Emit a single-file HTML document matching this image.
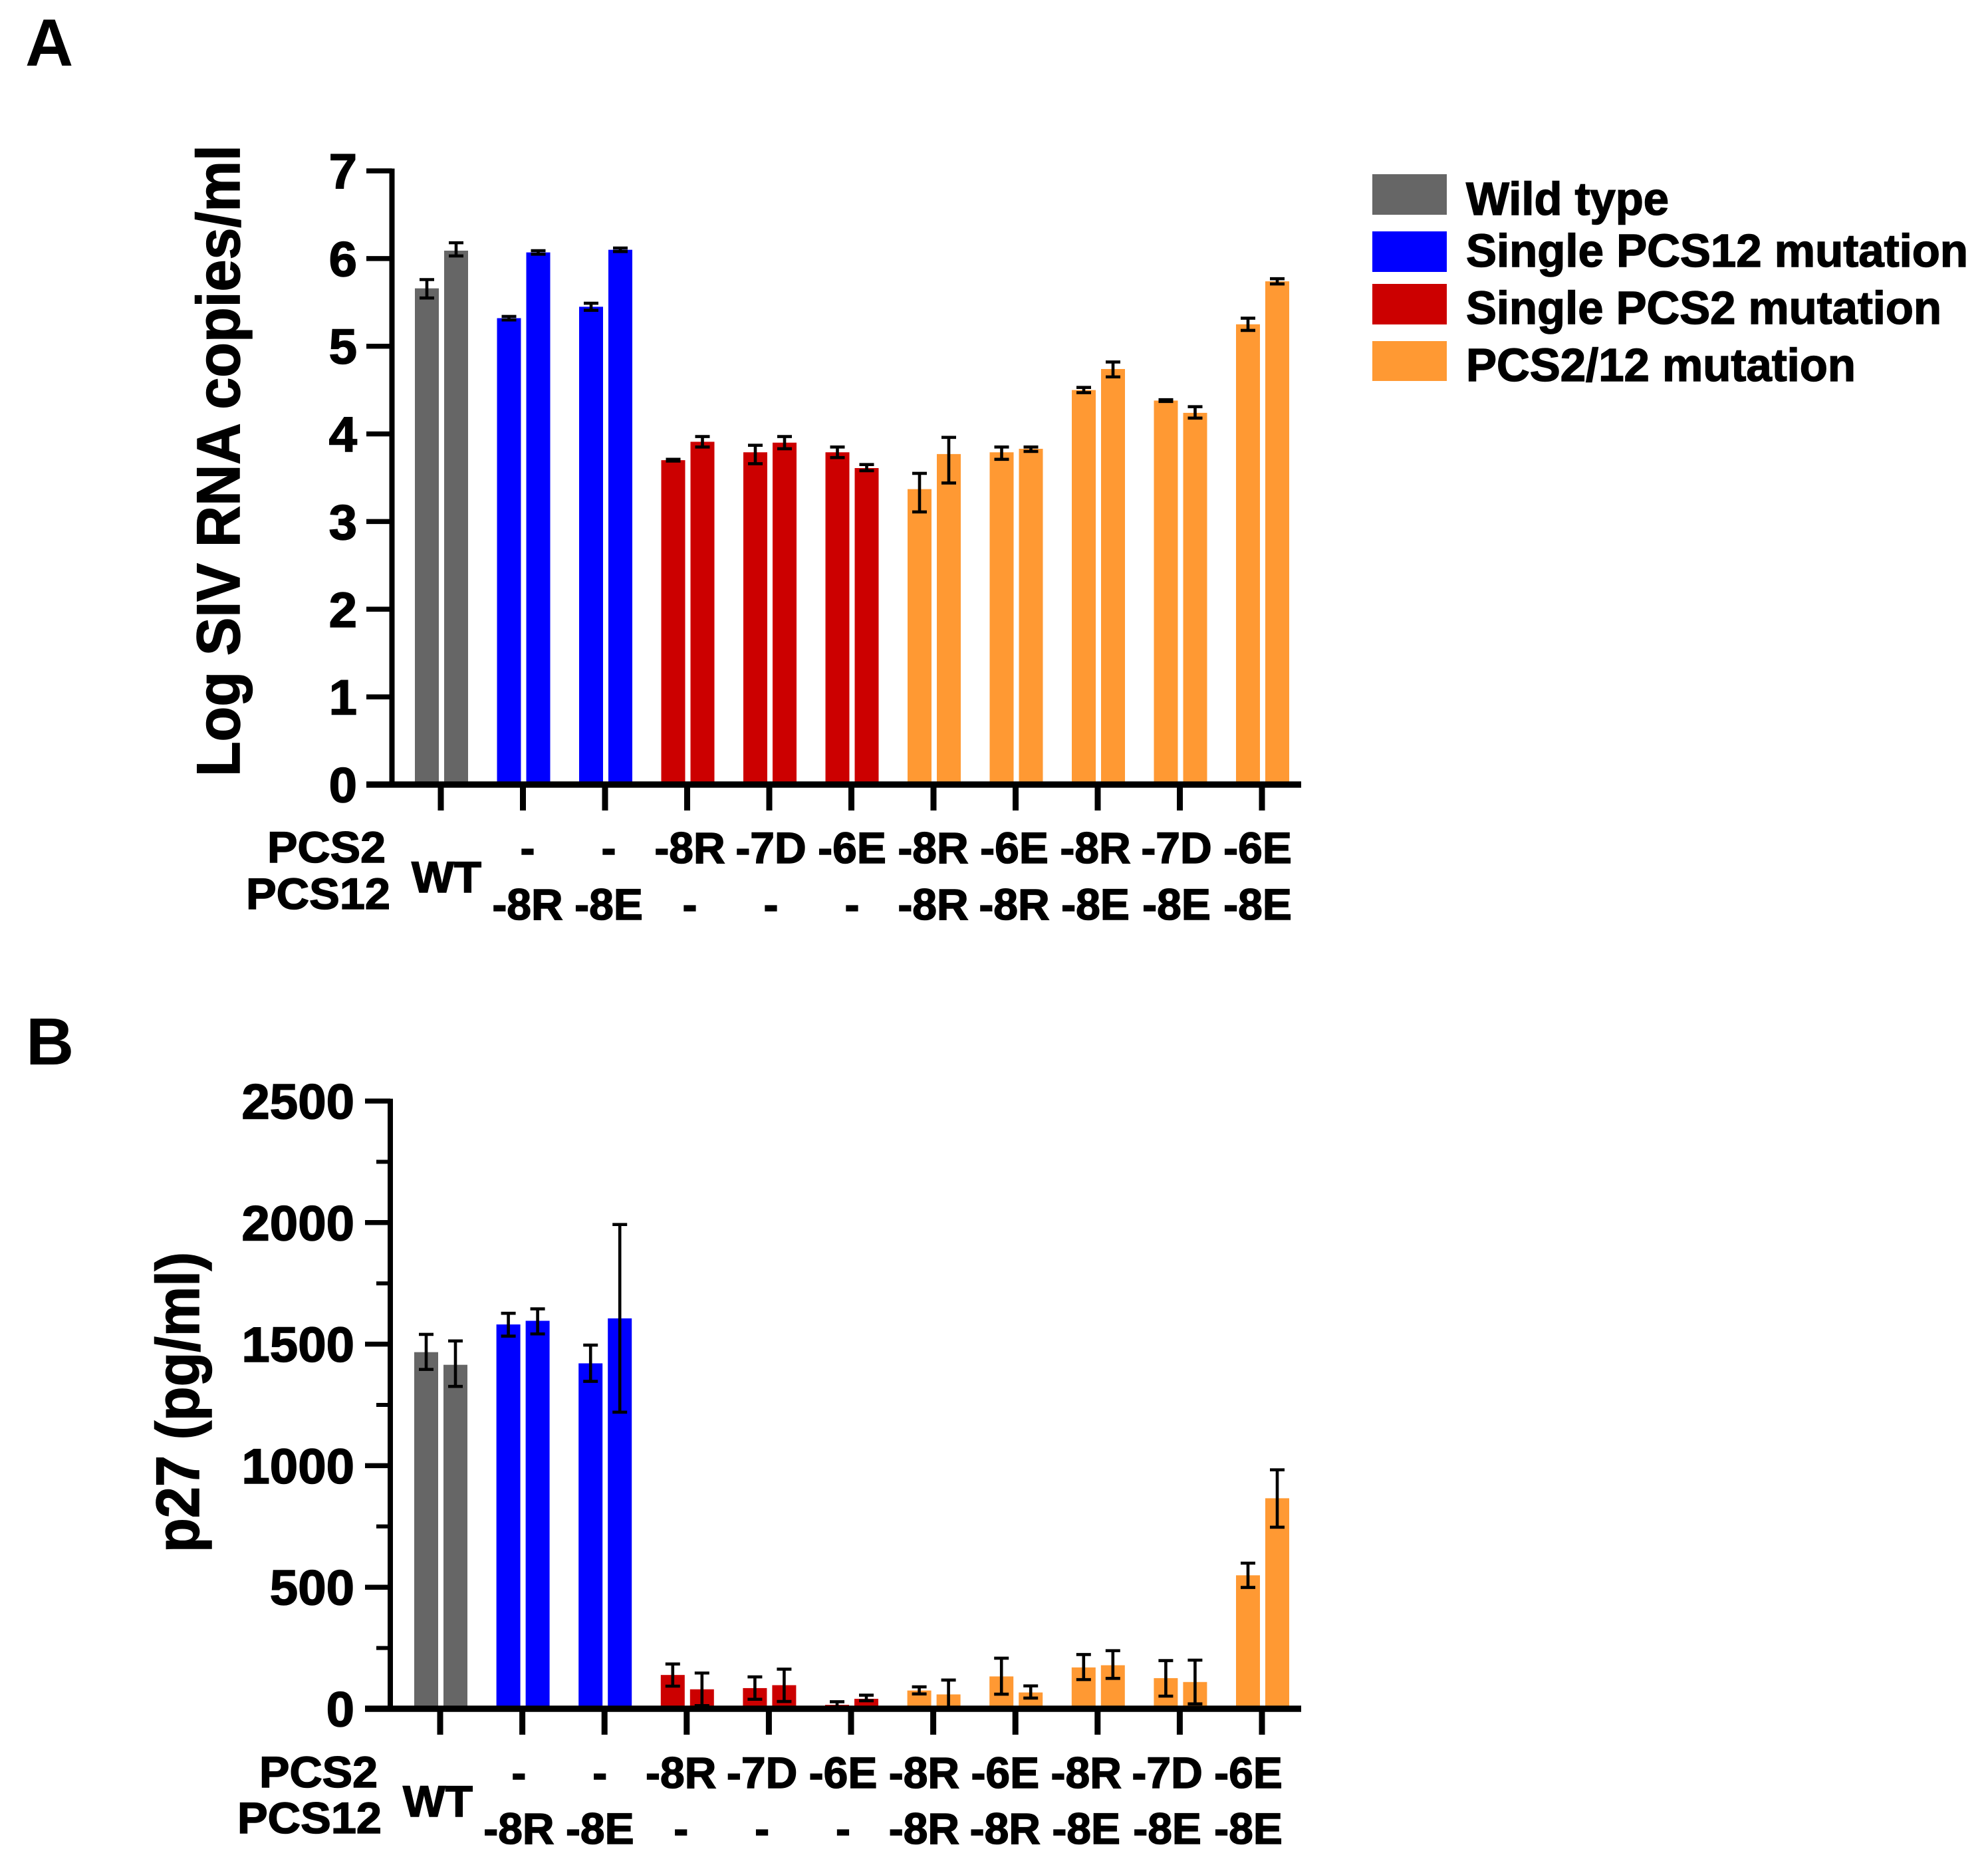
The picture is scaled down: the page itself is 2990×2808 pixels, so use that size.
<!DOCTYPE html>
<html lang="en">
<head>
<meta charset="utf-8">
<title>SIV RNA and p27 by PCS mutation</title>
<style>
  html, body { margin: 0; padding: 0; background: #fff; }
  svg { display: block; }
  text { font-family: "Liberation Sans", Arial, sans-serif; font-weight: bold; fill: #000; stroke: #000; stroke-width: 1.5px; }
</style>
</head>
<body>
<svg id="figure" xmlns="http://www.w3.org/2000/svg" width="2990" height="2808" viewBox="0 0 2990 2808">
  <rect x="0" y="0" width="2990" height="2808" fill="#ffffff"/>
  <text x="38" y="98.5" font-size="100" style="stroke-width:0">A</text>
  <text x="39" y="1601" font-size="100" style="stroke-width:0">B</text>

  <text transform="translate(360 1168) rotate(-90)" x="0" y="0" font-size="92" textLength="950" lengthAdjust="spacingAndGlyphs">Log SIV RNA copies/ml</text>
  <text transform="translate(299 2335) rotate(-90)" x="0" y="0" font-size="92" textLength="452" lengthAdjust="spacingAndGlyphs">p27 (pg/ml)</text>

  <g>
    <g>
      <rect x="2064" y="262" width="112" height="61" fill="#666666"/>
      <text x="2205" y="323" font-size="70" textLength="305" lengthAdjust="spacingAndGlyphs">Wild type</text>
    </g>
    <g>
      <rect x="2064" y="348" width="112" height="61" fill="#0000ff"/>
      <text x="2205" y="401" font-size="70" textLength="755" lengthAdjust="spacingAndGlyphs">Single PCS12 mutation</text>
    </g>
    <g>
      <rect x="2064" y="427" width="112" height="61" fill="#cc0000"/>
      <text x="2205" y="487" font-size="70" textLength="715" lengthAdjust="spacingAndGlyphs">Single PCS2 mutation</text>
    </g>
    <g>
      <rect x="2064" y="513" width="112" height="60" fill="#ff9933"/>
      <text x="2205" y="573" font-size="70" textLength="586" lengthAdjust="spacingAndGlyphs">PCS2/12 mutation</text>
    </g>
  </g>

  <g id="panel-a"></g>
  <g id="panel-b"></g>
</svg>

<script>
// Shared category data
const pcs2Labels = ['', '-', '-', '-8R', '-7D', '-6E', '-8R', '-6E', '-8R', '-7D', '-6E'];
const pcs12Labels = ['', '-8R', '-8E', '-', '-', '-', '-8R', '-8R', '-8E', '-8E', '-8E'];
const categoryKinds = ['wild', 'pcs12', 'pcs12', 'pcs2', 'pcs2', 'pcs2', 'double', 'double', 'double', 'double', 'double'];

// Panel A: log SIV RNA copies/ml (two bars per category)
const rnaValues = [5.66, 6.09, 5.32, 6.07, 5.45, 6.10, 3.70, 3.91, 3.79, 3.90, 3.79, 3.61, 3.37, 3.77, 3.79, 3.83, 4.50, 4.74, 4.38, 4.24, 5.25, 5.74];
const rnaErrHigh = [5.76, 6.18, 5.34, 6.09, 5.49, 6.12, 3.71, 3.97, 3.87, 3.97, 3.85, 3.65, 3.55, 3.96, 3.85, 3.85, 4.53, 4.82, 4.39, 4.31, 5.32, 5.77];
const rnaErrLow = [5.55, 6.03, 5.30, 6.05, 5.41, 6.08, 3.69, 3.85, 3.66, 3.83, 3.73, 3.58, 3.11, 3.44, 3.71, 3.80, 4.47, 4.65, 4.37, 4.18, 5.18, 5.71];
const rnaTicks = [0, 1, 2, 3, 4, 5, 6, 7];

// Panel B: p27 pg/ml (two bars per category)
const p27Values = [1467, 1415, 1581, 1596, 1421, 1606, 139, 80, 85, 97, 16, 41, 75, 59, 133, 67, 170, 179, 126, 110, 549, 866];
const p27ErrHigh = [1540, 1513, 1627, 1645, 1496, 1992, 184, 147, 131, 163, 29, 56, 90, 118, 208, 94, 223, 239, 198, 200, 599, 983];
const p27ErrLow = [1396, 1326, 1533, 1542, 1347, 1220, 93, 13, 39, 30, 7, 33, 61, 1, 60, 44, 120, 125, 52, 20, 499, 747];
const p27Ticks = [0, 500, 1000, 1500, 2000, 2500];
const p27MinorTicks = [250, 750, 1250, 1750, 2250];

const kindColor = { wild: '#666666', pcs12: '#0000ff', pcs2: '#cc0000', double: '#ff9933' };
const NS = 'http://www.w3.org/2000/svg';

function shape(parent, tag, attrs) {
  const el = document.createElementNS(NS, tag);
  for (const k in attrs) el.setAttribute(k, attrs[k]);
  parent.appendChild(el);
  return el;
}

function drawPanel(rootId, cfg) {
  const root = document.getElementById(rootId);
  const yScale = v => cfg.y0 - (v / cfg.yMax) * (cfg.y0 - cfg.yTop);
  const xScale = i => cfg.x0 + cfg.xStep * i;
  const labelX = i => cfg.labelX0 + cfg.labelStep * i;
  const barW = 36;

  // Bars
  cfg.values.forEach((v, idx) => {
    const cat = Math.floor(idx / 2);
    const side = idx % 2;
    const bx = xScale(cat) + 1 + (side === 0 ? -40 : 4);
    const top = yScale(v);
    const bar = shape(root, 'rect', { x: bx, y: top, width: barW, height: cfg.y0 - top, fill: kindColor[categoryKinds[cat]] });
    
    
  });

  // Error bars
  cfg.values.forEach((v, idx) => {
    const cat = Math.floor(idx / 2);
    const side = idx % 2;
    const cx = xScale(cat) + 1 + (side === 0 ? -40 : 4) + barW / 2;
    const hi = yScale(cfg.errHigh[idx]);
    const lo = yScale(cfg.errLow[idx]);
    const g = shape(root, 'g', { stroke: '#000', 'stroke-width': 4.6 });
    
    
    shape(g, 'line', { x1: cx, x2: cx, y1: hi, y2: lo });
    shape(g, 'line', { x1: cx - 11, x2: cx + 11, y1: hi, y2: hi });
    shape(g, 'line', { x1: cx - 11, x2: cx + 11, y1: lo, y2: lo });
  });

  // Axes
  const yAxis = shape(root, 'line', { x1: cfg.axisX, x2: cfg.axisX, y1: cfg.yTop - 3.5, y2: cfg.y0 + 4, stroke: '#000', 'stroke-width': 8 });
  
  
  const xAxis = shape(root, 'line', { x1: cfg.tickLeft, x2: 1957, y1: cfg.y0, y2: cfg.y0, stroke: '#000', 'stroke-width': 9.5 });
  
  

  // Y ticks and labels
  cfg.ticks.forEach(t => {
    const ty = yScale(t);
    if (t !== 0) {
      const tick = shape(root, 'line', { x1: cfg.tickLeft, x2: cfg.axisX, y1: ty, y2: ty, stroke: '#000', 'stroke-width': 7.5 });
      
      
    }
    const s = String(t);
    const lab = shape(root, 'text', { x: cfg.tickLabelRight, y: ty + 26.5, 'font-size': 74, 'text-anchor': 'end', textLength: s.length * 42.4, lengthAdjust: 'spacingAndGlyphs' });
    lab.textContent = s;
    
    
  });
  cfg.minorTicks.forEach(t => {
    const ty = yScale(t);
    const tick = shape(root, 'line', { x1: cfg.tickLeft + 17, x2: cfg.axisX, y1: ty, y2: ty, stroke: '#000', 'stroke-width': 6 });
    
    
  });

  // X ticks and labels
  categoryKinds.forEach((_, i) => {
    const tick = shape(root, 'line', { x1: xScale(i), x2: xScale(i), y1: cfg.y0, y2: cfg.y0 + 39, stroke: '#000', 'stroke-width': 9 });
    
    
    if (pcs2Labels[i]) {
      const a = shape(root, 'text', { x: labelX(i), y: cfg.row1, 'font-size': 66, 'text-anchor': 'middle' });
      a.textContent = pcs2Labels[i];
      
      
    }
    if (pcs12Labels[i]) {
      const b = shape(root, 'text', { x: labelX(i), y: cfg.row2, 'font-size': 66, 'text-anchor': 'middle' });
      b.textContent = pcs12Labels[i];
      
      
    }
  });

  const wt = shape(root, 'text', { x: labelX(0), y: cfg.wtY, 'font-size': 66, 'text-anchor': 'middle', textLength: 105, lengthAdjust: 'spacingAndGlyphs' });
  wt.textContent = 'WT';
  
  

  const h1 = shape(root, 'text', { x: cfg.pcs2Right, y: cfg.row1 - 1, 'font-size': 66, 'text-anchor': 'end', textLength: 178, lengthAdjust: 'spacingAndGlyphs' });
  h1.textContent = 'PCS2';
  
  
  const h2 = shape(root, 'text', { x: cfg.pcs12Right, y: cfg.wtY + 25, 'font-size': 66, 'text-anchor': 'end', textLength: 217, lengthAdjust: 'spacingAndGlyphs' });
  h2.textContent = 'PCS12';
  
  
}

drawPanel('panel-a', {
  values: rnaValues, errHigh: rnaErrHigh, errLow: rnaErrLow,
  ticks: rnaTicks, minorTicks: [], yMax: 7,
  y0: 1180, yTop: 257, x0: 663, xStep: 123.5, axisX: 589.5, tickLeft: 551, tickLabelRight: 537,
  labelX0: 671.5, labelStep: 122, row1: 1298, row2: 1383, wtY: 1342, pcs2Right: 580, pcs12Right: 587
});
drawPanel('panel-b', {
  values: p27Values, errHigh: p27ErrHigh, errLow: p27ErrLow,
  ticks: p27Ticks, minorTicks: p27MinorTicks, yMax: 2500,
  y0: 2570, yTop: 1656, x0: 662, xStep: 123.6, axisX: 587, tickLeft: 549, tickLabelRight: 533,
  labelX0: 658.5, labelStep: 121.9, row1: 2689, row2: 2773, wtY: 2732, pcs2Right: 568, pcs12Right: 574
});
</script>
</body>
</html>
